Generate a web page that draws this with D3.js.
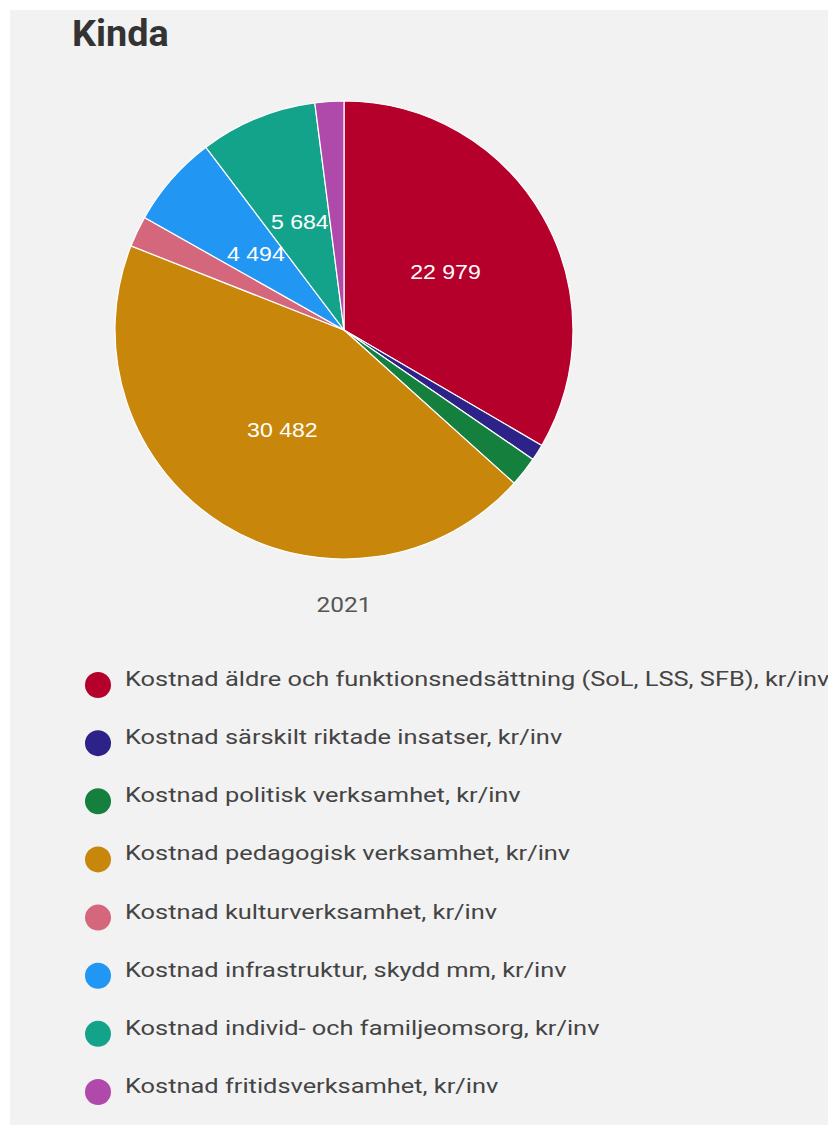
<!DOCTYPE html>
<html><head><meta charset="utf-8">
<script src="https://cdn.jsdelivr.net/npm/d3@7"></script>
<style>
html,body{margin:0;padding:0;background:#fff;}
svg{display:block;}
</style></head>
<body>
<script>
const title = "Kinda";
const year = "2021";
const categories = [
  "Kostnad äldre och funktionsnedsättning (SoL, LSS, SFB), kr/inv",
  "Kostnad särskilt riktade insatser, kr/inv",
  "Kostnad politisk verksamhet, kr/inv",
  "Kostnad pedagogisk verksamhet, kr/inv",
  "Kostnad kulturverksamhet, kr/inv",
  "Kostnad infrastruktur, skydd mm, kr/inv",
  "Kostnad individ- och familjeomsorg, kr/inv",
  "Kostnad fritidsverksamhet, kr/inv"
];
const values = [22979, 790, 1450, 30482, 1500, 4494, 5684, 1400];
const colors = ["#b5002b", "#2c2287", "#15803d", "#c8860a", "#d4677b", "#2196f3", "#13a38a", "#b04aaa"];

const W = 828, H = 1128;
const svg = d3.select("body").append("svg").attr("width", W).attr("height", H);
svg.append("rect").attr("x", 10).attr("y", 10).attr("width", W - 10).attr("height", H - 13).attr("fill", "#f2f2f2");

svg.append("text").attr("transform", "translate(72,46) scale(1.05,1)").text(title)
  .attr("font-family", "Roboto").attr("font-weight", "bold").attr("font-size", 36).attr("fill", "#333");

const cx = 344, cy = 330, r = 229;
const total = d3.sum(values);
const pie = d3.pie().sort(null).value(d => d);
const arcs = pie(values);
const arc = d3.arc().innerRadius(0).outerRadius(r);
const labelArc = d3.arc().innerRadius(117).outerRadius(117);
const fmt = v => d3.format(",")(v).replace(/,/g, " ");

const g = svg.append("g").attr("transform", `translate(${cx},${cy})`);
g.selectAll("path").data(arcs).join("path")
  .attr("d", arc).attr("fill", (d, i) => colors[i])
  .attr("stroke", "#ffffff").attr("stroke-width", 1.2);

g.selectAll("text.lbl").data(arcs.filter(d => d.value / total > 0.05)).join("text")
  .attr("class", "lbl")
  .attr("transform", d => `translate(${labelArc.centroid(d)}) scale(1.1,1)`)
  .attr("text-anchor", "middle").attr("dy", "0.36em")
  .attr("font-family", "Arial, Liberation Sans, sans-serif").attr("font-size", 21)
  .attr("fill", "#ffffff").text(d => fmt(d.value));

svg.append("text").attr("transform", `translate(${cx},612) scale(1.22,1)`).attr("text-anchor", "middle")
  .attr("font-family", "Roboto").attr("font-size", 20).attr("fill", "#555").text(year);

const ly = d3.scalePoint().domain(d3.range(categories.length)).range([685, 1092]);
const leg = svg.append("g").selectAll("g").data(categories).join("g")
  .attr("transform", (d, i) => `translate(0,${ly(i)})`);
leg.append("circle").attr("cx", 98).attr("cy", 0).attr("r", 13).attr("fill", (d, i) => colors[i]);
leg.append("text").attr("transform", "translate(125,1) scale(1.27,1)").text(d => d)
  .attr("font-family", "Roboto").attr("font-size", 20).attr("fill", "#444");
</script>
</body></html>
